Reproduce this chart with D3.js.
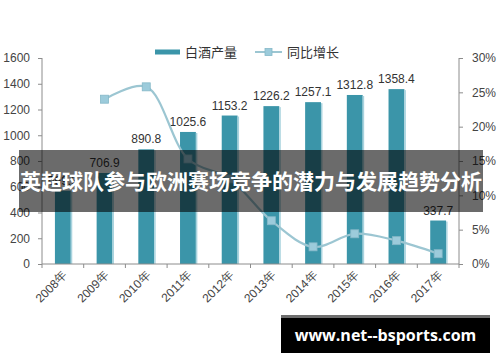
<!DOCTYPE html>
<html>
<head>
<meta charset="utf-8">
<script src="https://cdn.jsdelivr.net/npm/d3@7"></script>
<style>
  body { margin: 0; background: #fff; }
  svg { display: block; }
</style>
</head>
<body>
<svg id="chart" width="500" height="362"></svg>
<script>
const years = ["2008年", "2009年", "2010年", "2011年", "2012年", "2013年", "2014年", "2015年", "2016年", "2017年"];
const output = [569.3, 706.9, 890.8, 1025.6, 1153.2, 1226.2, 1257.1, 1312.8, 1358.4, 337.7];
const growth = [null, 24.0, 25.8, 15.3, 12.4, 6.3, 2.5, 4.4, 3.4, 1.5];
const leftTicks = [0, 200, 400, 600, 800, 1000, 1200, 1400, 1600];
const rightTicks = [0, 5, 10, 15, 20, 25, 30];

const title = "英超球队参与欧洲赛场竞争的潜力与发展趋势分析";
const site = "www.net--bsports.com";

const svg = d3.select("#chart");
const m = { left: 42, right: 41, top: 58, bottom: 98 };
const w = 500, h = 362;
const numFont = "'Liberation Sans', 'DejaVu Sans', sans-serif";
const cjkFont = "'Noto Sans CJK SC', sans-serif";

const x = d3.scaleBand()
  .domain(years)
  .range([m.left, w - m.right])
  .paddingInner(0.62)
  .paddingOuter(0.31);

const y = d3.scaleLinear().domain([0, 1600]).range([h - m.bottom, m.top]);
const y2 = d3.scaleLinear().domain([0, 30]).range([h - m.bottom, m.top]);

// bars
svg.append("g").selectAll("rect")
  .data(output)
  .join("rect")
  .attr("x", (d, i) => x(years[i]))
  .attr("y", d => y(d))
  .attr("width", x.bandwidth())
  .attr("height", d => y(0) - y(d))
  .attr("fill", "#3b95a9");

// light edge on bars
svg.append("g").selectAll("rect")
  .data(output)
  .join("rect")
  .attr("x", (d, i) => x(years[i]) + x.bandwidth())
  .attr("y", d => y(d) + 1)
  .attr("width", 1.5)
  .attr("height", d => y(0) - y(d) - 1)
  .attr("fill", "#a9d3de");

// bar labels
svg.append("g").selectAll("text")
  .data(output)
  .join("text")
  .attr("x", (d, i) => x(years[i]) + x.bandwidth() / 2)
  .attr("y", d => y(d) - 6)
  .attr("text-anchor", "middle")
  .attr("font-family", numFont)
  .attr("font-size", 12)
  .attr("fill", "#333")
  .text(d => d.toFixed(1));

// axes
const axisColor = "#8c8c8c";
const left = svg.append("g")
  .attr("transform", `translate(${m.left},0)`)
  .call(d3.axisLeft(y).tickValues(leftTicks).tickSize(4).tickPadding(8).tickFormat(d3.format("d")));
const right = svg.append("g")
  .attr("transform", `translate(${w - m.right},0)`)
  .call(d3.axisRight(y2).tickValues(rightTicks).tickSize(4).tickPadding(9).tickFormat(d => d + "%"));

[left, right].forEach(g => {
  g.select(".domain").attr("stroke", axisColor).attr("d", g === left
    ? `M0,${y(0)}V${y(1600)}`
    : `M0,${y2(0)}V${y2(30)}`);
  g.selectAll(".tick line").attr("stroke", axisColor);
  g.selectAll(".tick text")
    .attr("font-family", numFont)
    .attr("font-size", 12)
    .attr("fill", "#444");
});

// x axis line with boundary ticks
const xg = svg.append("g");
xg.append("line")
  .attr("x1", m.left).attr("x2", w - m.right)
  .attr("y1", y(0)).attr("y2", y(0))
  .attr("stroke", axisColor);
const step = x.step();
xg.selectAll("line.tk")
  .data(d3.range(years.length + 1))
  .join("line")
  .attr("class", "tk")
  .attr("x1", i => x(years[0]) - x.paddingOuter() * step + i * step)
  .attr("x2", i => x(years[0]) - x.paddingOuter() * step + i * step)
  .attr("y1", y(0)).attr("y2", y(0) + 4)
  .attr("stroke", axisColor);

xg.selectAll("text")
  .data(years)
  .join("text")
  .attr("transform", d => `translate(${x(d) + x.bandwidth() / 2 + 5},${y(0) + 12}) rotate(-45)`)
  .attr("text-anchor", "end")
  .attr("font-family", numFont)
  .attr("font-size", 12)
  .attr("fill", "#444")
  .text(d => d);

// growth line
const pts = growth
  .map((v, i) => ({ year: years[i], v }))
  .filter(d => d.v !== null);

const line = d3.line()
  .x(d => x(d.year) + x.bandwidth() / 2)
  .y(d => y2(d.v))
  .curve(d3.curveCatmullRom.alpha(0.5));

svg.append("path")
  .datum(pts)
  .attr("fill", "none")
  .attr("stroke", "#9cc6d2")
  .attr("stroke-width", 2.2)
  .attr("d", line);

svg.append("g").selectAll("rect")
  .data(pts)
  .join("rect")
  .attr("x", d => x(d.year) + x.bandwidth() / 2 - 4)
  .attr("y", d => y2(d.v) - 4)
  .attr("width", 8)
  .attr("height", 8)
  .attr("fill", "#9ccbdb")
  .attr("stroke", "#86b8c8")
  .attr("stroke-width", 0.8);

// legend
const lg = svg.append("g");
lg.append("rect").attr("x", 155).attr("y", 49.5).attr("width", 25).attr("height", 5).attr("fill", "#3b95a9");
lg.append("text").attr("x", 185).attr("y", 57).attr("font-family", cjkFont).attr("font-size", 13).attr("fill", "#333").text("白酒产量");
lg.append("line").attr("x1", 255).attr("x2", 282).attr("y1", 52).attr("y2", 52).attr("stroke", "#9cc6d2").attr("stroke-width", 2);
lg.append("rect").attr("x", 265).attr("y", 48.5).attr("width", 7).attr("height", 7).attr("fill", "#9ccbdb").attr("stroke", "#86b8c8").attr("stroke-width", 0.8);
lg.append("text").attr("x", 287).attr("y", 57).attr("font-family", cjkFont).attr("font-size", 13).attr("fill", "#333").text("同比增长");

// title banner
svg.append("rect")
  .attr("x", 19).attr("y", 150).attr("width", 464).attr("height", 62)
  .attr("fill", "rgba(0,0,0,0.58)");
svg.append("text")
  .attr("x", 251).attr("y", 189)
  .attr("text-anchor", "middle")
  .attr("font-family", cjkFont)
  .attr("font-weight", "bold")
  .attr("font-size", 21)
  .attr("fill", "#fff")
  .text(title);

// site box
svg.append("rect").attr("x", 281).attr("y", 315).attr("width", 209).attr("height", 3).attr("fill", "#6e6e6e");
svg.append("rect").attr("x", 281).attr("y", 318).attr("width", 209).attr("height", 35).attr("fill", "#000");
svg.append("text")
  .attr("x", 385.5).attr("y", 341)
  .attr("text-anchor", "middle")
  .attr("font-family", "'Open Sans', 'DejaVu Sans', sans-serif")
  .attr("font-weight", "bold")
  .attr("font-size", 16)
  .attr("fill", "#fff")
  .text(site);
</script>
</body>
</html>
